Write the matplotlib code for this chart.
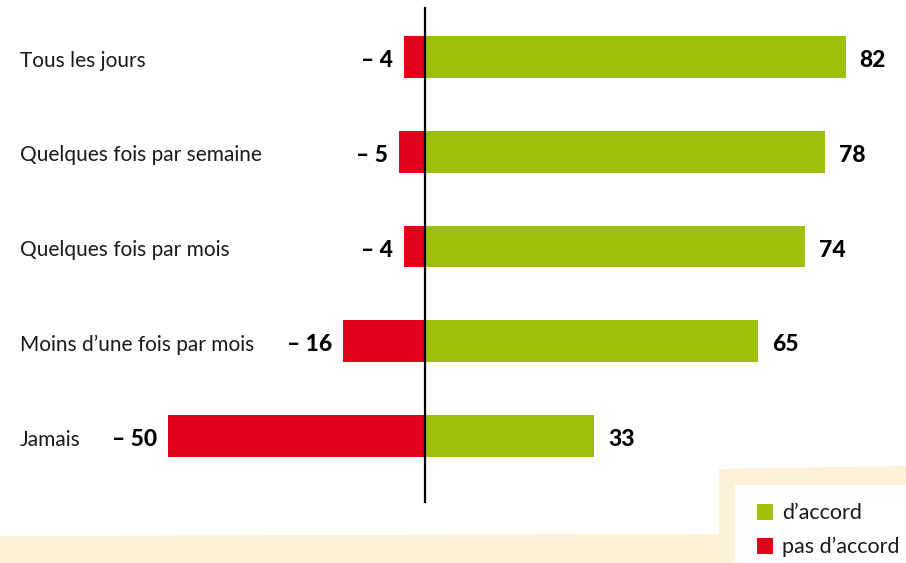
import numpy as np
import matplotlib.pyplot as plt
from matplotlib.patches import Polygon, Rectangle

categories = ['Tous les jours', 'Quelques fois par semaine', 'Quelques fois par mois',
              "Moins d\u2019une fois par mois", 'Jamais']
agree = [82, 78, 74, 65, 33]
disagree = [-4, -5, -4, -16, -50]
legend_labels = ["d\u2019accord", "pas d\u2019accord"]

green = '#9bbf0b'
red = '#e2001a'
cream = '#fdf1d7'

W, H = 906, 563
plt.rcParams['font.family'] = ['Lato', 'DejaVu Sans']

fig = plt.figure(figsize=(W / 100, H / 100), dpi=100)

# cream frame in figure pixel coords
def fp(pts):
    return [(x / W, 1 - y / H) for x, y in pts]

fig.patches.append(Polygon(fp([(0, 536), (719, 534), (719, 469), (906, 466), (906, 563), (0, 563)]),
                           closed=True, facecolor=cream, edgecolor='none', transform=fig.transFigure))
fig.patches.append(Polygon(fp([(735, 485), (906, 485), (906, 563), (735, 563)]),
                           closed=True, facecolor='white', edgecolor='none', transform=fig.transFigure))

ax = fig.add_axes([0, 0, 1, 1])
ax.set_facecolor('none')
scale = 5.13
ax.set_xlim(-425 / scale, (W - 425) / scale)
pitch = 94.75
ax.set_ylim((H - 57) / pitch, -57 / pitch)
ax.axis('off')

y = np.arange(len(categories))
ax.barh(y, agree, height=0.44, color=green)
ax.barh(y, disagree, height=0.44, color=red)
ax.plot([0, 0], [(8 - 57) / pitch, (502 - 57) / pitch], color='black', lw=1.6)

dy = 3.5 / pitch  # text sits a little below the bar centre
for i, cat in enumerate(categories):
    ax.text(20 / W, y[i] + dy, cat, transform=ax.get_yaxis_transform(), ha='left', va='center',
            fontsize=15, color='#1a1a1a')
    ax.annotate(str(agree[i]), (agree[i], y[i] + dy), xytext=(10, 0), textcoords='offset points',
                ha='left', va='center', fontsize=16.5, fontweight='black', color='black')
    ax.annotate('\u2013 ' + str(-disagree[i]), (disagree[i], y[i] + dy), xytext=(-8, 0),
                textcoords='offset points', ha='right', va='center', fontsize=16.5,
                fontweight='black', color='black')

# legend
for k, (lab, col) in enumerate(zip(legend_labels, [green, red])):
    cy = 512 + 34 * k
    fig.patches.append(Rectangle((757 / W, 1 - (cy + 8) / H), 16 / W, 16 / H,
                                 facecolor=col, edgecolor='none', transform=fig.transFigure))
    fig.text(782 / W, 1 - (cy + 1) / H, lab, ha='left', va='center', fontsize=15.5, color='#1a1a1a')

fig.savefig('out.png', dpi=100)
